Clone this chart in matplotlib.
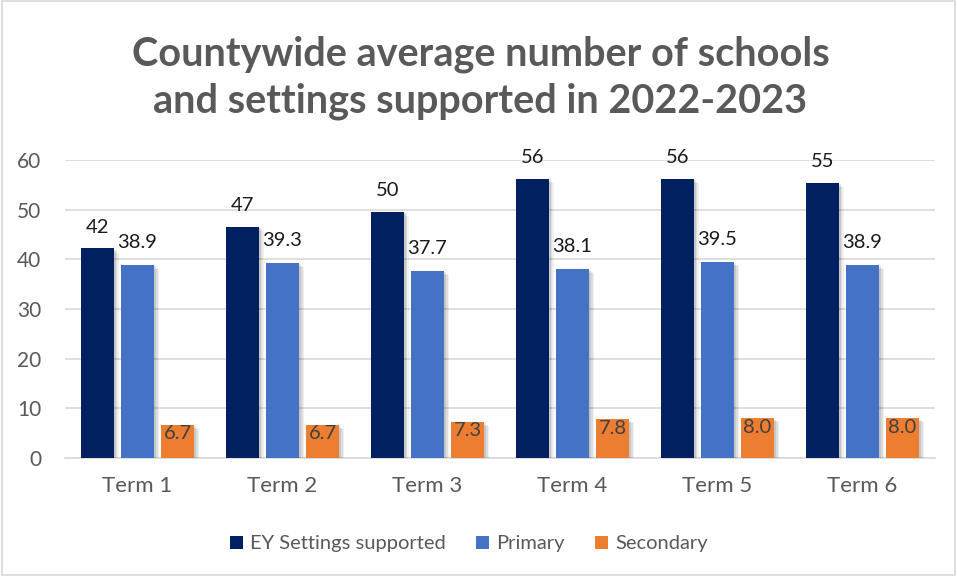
import matplotlib.pyplot as plt
import matplotlib.patheffects as pe
from matplotlib.patches import Rectangle
import numpy as np

plt.rcParams['font.family'] = ['Lato', 'DejaVu Sans']

terms = ['Term 1', 'Term 2', 'Term 3', 'Term 4', 'Term 5', 'Term 6']
ey_settings = [42.2, 46.6, 49.6, 56.2, 56.2, 55.4]
primary = [38.9, 39.3, 37.7, 38.1, 39.5, 38.9]
secondary = [6.7, 6.7, 7.3, 7.8, 8.0, 8.0]

series_names = ['EY Settings supported', 'Primary', 'Secondary']
colours = ['#002060', '#4472C4', '#ED7D31']

fig = plt.figure(figsize=(9.57, 5.76), dpi=100)
ax = fig.add_axes([65 / 957, 1 - 458 / 576, 870 / 957, 298 / 576])

x = np.arange(len(terms))
step = 0.276
width = 0.228
# soft drop shadow, built from a few faint offset copies
shadow = [pe.SimplePatchShadow(offset=(3.5, -3), shadow_rgbFace='#000000', alpha=0.06),
          pe.SimplePatchShadow(offset=(2.5, -2), shadow_rgbFace='#000000', alpha=0.08),
          pe.SimplePatchShadow(offset=(1.5, -1), shadow_rgbFace='#000000', alpha=0.10),
          pe.Normal()]

all_vals = [ey_settings, primary, secondary]
for i, (vals, name, col) in enumerate(zip(all_vals, series_names, colours)):
    bars = ax.bar(x + (i - 1) * step, vals, width, color=col, label=name, zorder=3)
    for b, v in zip(bars, vals):
        cx = b.get_x() + b.get_width() / 2
        if i == 0:
            ax.annotate(f'{v:.0f}', (cx, v), xytext=(0, 9), textcoords='offset points',
                        ha='center', va='bottom', fontsize=14.5, color='#1a1a1a')
        elif i == 1:
            ax.annotate(f'{v:.1f}', (cx, v), xytext=(0, 10), textcoords='offset points',
                        ha='center', va='bottom', fontsize=14.5, color='#1a1a1a')
        else:
            ax.annotate(f'{v:.1f}', (cx, v), xytext=(0, -0.5), textcoords='offset points',
                        ha='center', va='top', fontsize=14.5, color='#404040')

ax.set_xlim(-0.5, 5.5)
ax.set_ylim(0, 60)
ax.set_yticks(range(0, 61, 10))
ax.set_xticks(x)
ax.set_xticklabels(terms)
ax.yaxis.grid(True, color='#D9D9D9', linewidth=1.2, zorder=0)
ax.set_axisbelow(True)
for s in ['top', 'right', 'left']:
    ax.spines[s].set_visible(False)
ax.spines['bottom'].set_color('#D9D9D9')
ax.spines['bottom'].set_linewidth(1.2)
ax.tick_params(axis='both', length=0, labelcolor='#595959')
ax.tick_params(axis='y', pad=17, labelsize=15)
ax.tick_params(axis='x', pad=13, labelsize=16)

fig.text(0.502, 1 - 78 / 576, 'Countywide average number of schools\nand settings supported in 2022-2023',
         ha='center', va='center', fontsize=28.5, fontweight='bold', color='#595959', linespacing=1.32)

ax.legend(loc='center', bbox_to_anchor=(0.49, 1 - 544 / 576), bbox_transform=fig.transFigure,
          ncol=3, frameon=False, fontsize=14.5, handlelength=0.65, handleheight=0.65,
          handletextpad=0.35, columnspacing=1.5, labelcolor='#595959')

# shadows applied after the legend so its swatches stay flat
for cont in ax.containers:
    for b in cont:
        b.set_path_effects(shadow)

fig.patches.append(Rectangle((0.002, 0.002), 0.996, 0.996, transform=fig.transFigure,
                             fill=False, edgecolor='#D9D9D9', linewidth=1.2))

fig.savefig('out.png', dpi=100)
